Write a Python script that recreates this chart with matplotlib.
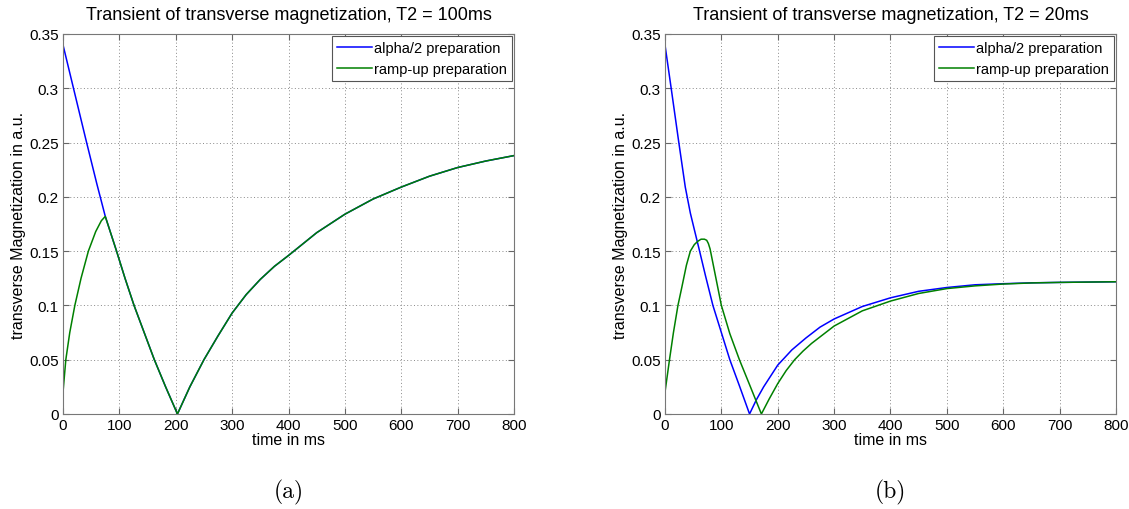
import matplotlib
matplotlib.use("Agg")
import matplotlib.pyplot as plt

# T2 = 100 ms
t_a_blue = [0, 20, 40, 60, 75, 95, 110, 126, 144, 162, 182, 203, 225, 250, 275, 300,
            325, 350, 375, 400, 450, 500, 550, 600, 650, 700, 750, 800]
m_a_blue = [0.340, 0.297, 0.254, 0.212, 0.182, 0.150, 0.125, 0.100, 0.075, 0.050, 0.025,
            0.0, 0.025, 0.050, 0.072, 0.093, 0.110, 0.124, 0.136, 0.146, 0.167, 0.184,
            0.198, 0.209, 0.219, 0.227, 0.233, 0.238]
t_a_green = [0, 5, 12, 21, 32, 45, 58, 68, 75, 95, 110, 126, 144, 162, 182, 203, 225,
             250, 275, 300, 325, 350, 375, 400, 450, 500, 550, 600, 650, 700, 750, 800]
m_a_green = [0.020, 0.050, 0.075, 0.100, 0.125, 0.150, 0.168, 0.178, 0.182, 0.150,
             0.125, 0.100, 0.075, 0.050, 0.025, 0.0, 0.025, 0.050, 0.072, 0.093, 0.110,
             0.124, 0.136, 0.146, 0.167, 0.184, 0.198, 0.209, 0.219, 0.227, 0.233, 0.238]

# T2 = 20 ms
t_b_blue = [0, 11, 24, 36, 45, 52, 60, 72, 85, 100, 115, 132, 150, 162, 175, 200, 225,
            250, 275, 300, 350, 400, 450, 500, 550, 600, 650, 700, 750, 800]
m_b_blue = [0.340, 0.300, 0.252, 0.209, 0.185, 0.170, 0.153, 0.127, 0.100, 0.075, 0.050,
            0.026, 0.0, 0.013, 0.025, 0.045, 0.059, 0.070, 0.080, 0.0875, 0.099, 0.107,
            0.113, 0.1165, 0.119, 0.120, 0.1208, 0.1212, 0.1215, 0.1218]
t_b_green = [0, 8, 15, 23, 30, 38, 45, 52, 58, 64, 70, 74, 77, 80, 90, 100, 115, 132,
             150, 171, 185, 200, 215, 230, 245, 260, 275, 300, 350, 400, 450, 500, 550,
             600, 650, 700, 750, 800]
m_b_green = [0.020, 0.050, 0.075, 0.100, 0.117, 0.137, 0.150, 0.156, 0.159, 0.161, 0.161,
             0.160, 0.157, 0.152, 0.126, 0.100, 0.074, 0.050, 0.027, 0.0, 0.014, 0.028,
             0.040, 0.050, 0.058, 0.065, 0.071, 0.081, 0.095, 0.104, 0.111, 0.1155, 0.118,
             0.1197, 0.1207, 0.1212, 0.1215, 0.1218]

titles = ["Transient of transverse magnetization, T2 = 100ms",
          "Transient of transverse magnetization, T2 = 20ms"]
captions = ["(a)", "(b)"]
xticks = [0, 100, 200, 300, 400, 500, 600, 700, 800]
yticks = [0, 0.05, 0.1, 0.15, 0.2, 0.25, 0.3, 0.35]
ytick_labels = ["0", "0.05", "0.1", "0.15", "0.2", "0.25", "0.3", "0.35"]

plt.rcParams["font.family"] = ["Liberation Sans", "DejaVu Sans"]

fig = plt.figure(figsize=(11.29, 5.10), dpi=100)
ax1 = fig.add_axes([0.0558, 0.1863, 0.3995, 0.7451])
ax2 = fig.add_axes([0.589, 0.1863, 0.3995, 0.7451])

data = [(t_a_blue, m_a_blue, t_a_green, m_a_green),
        (t_b_blue, m_b_blue, t_b_green, m_b_green)]

for ax, (tb, mb, tg, mg), title, cap in zip([ax1, ax2], data, titles, captions):
    ax.plot(tb, mb, color=(0, 0, 1), lw=1.1, label="alpha/2 preparation")
    ax.plot(tg, mg, color=(0, 0.5, 0), lw=1.1, label="ramp-up preparation")
    ax.set_xlim(0, 800)
    ax.set_ylim(0, 0.35)
    ax.set_xticks(xticks)
    ax.set_yticks(yticks)
    ax.set_yticklabels(ytick_labels)
    ax.grid(True, linestyle=(0, (1, 2.5)), color="#888888", lw=0.7)
    ax.tick_params(direction="in", top=True, right=True, length=4, color="#666666",
                   labelsize=11, pad=3)
    for s in ax.spines.values():
        s.set_color("#777777")
        s.set_linewidth(0.8)
    ax.set_title(title, fontsize=13, pad=11)
    ax.set_xlabel("time in ms", fontsize=11.5, labelpad=0)
    ax.set_ylabel("transverse Magnetization in a.u.", fontsize=11.5, labelpad=2)
    leg = ax.legend(loc="upper right", fontsize=10.5, handlelength=2.4, handletextpad=0.1,
                    borderpad=0.35, labelspacing=0.45, fancybox=False, framealpha=1,
                    borderaxespad=0.15)
    leg.get_frame().set_edgecolor("#555555")
    leg.get_frame().set_linewidth(0.8)
    ax.text(0.5, -0.205, cap, transform=ax.transAxes, ha="center", va="center",
            fontsize=17, family="cmr10")

fig.savefig("out.png", dpi=100)
